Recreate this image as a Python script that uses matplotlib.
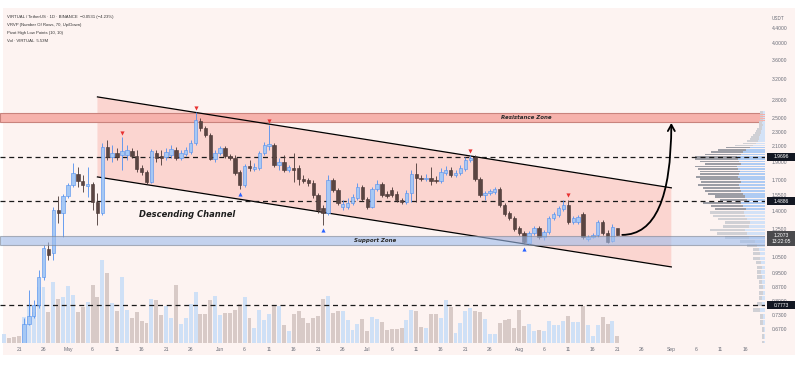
import numpy as np
import pandas as pd
import matplotlib
matplotlib.use("Agg")
import matplotlib.pyplot as plt
import matplotlib.dates as mdates
import matplotlib.transforms as mtransforms
from matplotlib.patches import Rectangle, Polygon
from matplotlib.ticker import FixedLocator, NullLocator

plt.rcParams['font.family'] = ['Liberation Sans', 'DejaVu Sans']

# ---- daily candles, VIRTUAL/USDT (first candle 2025-04-22) ----
FIRST_CANDLE = "2025-04-22"
opens = [
    0.614, 0.692, 0.727, 0.777, 0.927, 1.106, 1.078, 1.411, 1.385, 1.540,
    1.649, 1.767, 1.691, 1.639, 1.660, 1.483, 1.385, 2.092, 1.965, 2.015,
    1.989, 1.989, 2.040, 1.977, 1.835, 1.789, 1.680, 2.015, 1.977, 1.965,
    1.989, 2.053, 1.953, 2.003, 2.028, 2.145, 2.460, 2.355, 2.254, 1.941,
    2.015, 2.079, 1.977, 1.953, 1.789, 1.649, 1.858, 1.823, 1.835, 2.015,
    2.105, 2.118, 1.869, 1.905, 1.811, 1.835, 1.835, 1.712, 1.701, 1.670,
    1.549, 1.429, 1.385, 1.701, 1.599, 1.437, 1.437, 1.474, 1.521, 1.629,
    1.511, 1.437, 1.609, 1.660, 1.559, 1.599, 1.559, 1.502, 1.483, 1.569,
    1.767, 1.723, 1.712, 1.723, 1.701, 1.691, 1.778, 1.811, 1.756, 1.778,
    1.823, 1.928, 1.965, 1.712, 1.549, 1.569, 1.579, 1.609, 1.455, 1.385,
    1.342, 1.261, 1.222, 1.149, 1.222, 1.261, 1.192, 1.230, 1.342, 1.367,
    1.420, 1.455, 1.309, 1.309, 1.376, 1.177, 1.192, 1.207, 1.309, 1.222,
    1.163, 1.261]
highs = [
    0.718, 0.856, 0.804, 0.970, 1.134, 1.156, 1.437, 1.540, 1.559, 1.670,
    1.893, 1.846, 1.756, 1.846, 1.680, 1.569, 2.145, 2.185, 2.118, 2.079,
    2.226, 2.118, 2.079, 2.053, 1.869, 1.811, 2.066, 2.053, 2.053, 2.079,
    2.118, 2.092, 2.053, 2.092, 2.185, 2.603, 2.507, 2.385, 2.283, 2.053,
    2.105, 2.105, 2.003, 1.989, 1.811, 1.881, 1.928, 1.893, 2.040, 2.158,
    2.400, 2.145, 1.953, 1.989, 1.869, 2.015, 1.869, 1.756, 1.723, 1.701,
    1.569, 1.455, 1.756, 1.723, 1.619, 1.502, 1.521, 1.559, 1.670, 1.649,
    1.530, 1.629, 1.701, 1.680, 1.589, 1.629, 1.589, 1.521, 1.599, 1.811,
    1.893, 1.756, 1.767, 1.846, 1.745, 1.835, 1.858, 1.846, 1.811, 1.869,
    1.965, 1.989, 1.989, 1.734, 1.589, 1.609, 1.629, 1.629, 1.474, 1.402,
    1.358, 1.277, 1.238, 1.238, 1.277, 1.277, 1.245, 1.358, 1.393, 1.446,
    1.502, 1.502, 1.358, 1.367, 1.393, 1.207, 1.222, 1.325, 1.325, 1.245,
    1.293, 1.245]
lows = [
    0.606, 0.688, 0.718, 0.763, 0.911, 1.032, 1.032, 1.301, 1.192, 1.521,
    1.629, 1.629, 1.579, 1.530, 1.411, 1.285, 1.367, 1.928, 1.905, 1.928,
    1.811, 1.928, 1.953, 1.789, 1.756, 1.660, 1.670, 1.905, 1.869, 1.928,
    1.953, 1.928, 1.928, 1.977, 2.003, 2.118, 2.311, 2.226, 1.928, 1.905,
    1.989, 1.953, 1.928, 1.756, 1.609, 1.629, 1.800, 1.800, 1.811, 1.989,
    2.053, 1.846, 1.811, 1.789, 1.789, 1.680, 1.649, 1.670, 1.639, 1.521,
    1.385, 1.285, 1.367, 1.579, 1.455, 1.411, 1.420, 1.455, 1.502, 1.493,
    1.420, 1.429, 1.589, 1.530, 1.521, 1.530, 1.483, 1.465, 1.465, 1.483,
    1.483, 1.691, 1.691, 1.649, 1.670, 1.670, 1.756, 1.734, 1.734, 1.756,
    1.800, 1.905, 1.691, 1.530, 1.502, 1.549, 1.559, 1.437, 1.358, 1.325,
    1.238, 1.207, 1.141, 1.141, 1.207, 1.177, 1.170, 1.215, 1.325, 1.350,
    1.402, 1.293, 1.293, 1.293, 1.177, 1.163, 1.185, 1.192, 1.207, 1.149,
    1.156, 1.207]
closes = [
    0.692, 0.727, 0.777, 0.927, 1.113, 1.065, 1.411, 1.385, 1.540, 1.649,
    1.778, 1.691, 1.649, 1.660, 1.483, 1.385, 2.092, 1.965, 2.015, 1.965,
    2.040, 2.053, 1.977, 1.823, 1.789, 1.680, 2.040, 1.953, 1.953, 2.028,
    2.066, 1.953, 2.015, 2.053, 2.145, 2.476, 2.355, 2.254, 1.941, 2.015,
    2.079, 1.977, 1.953, 1.778, 1.649, 1.858, 1.835, 1.846, 2.015, 2.118,
    2.131, 1.869, 1.905, 1.811, 1.846, 1.811, 1.712, 1.691, 1.670, 1.549,
    1.411, 1.385, 1.701, 1.599, 1.474, 1.465, 1.474, 1.530, 1.629, 1.511,
    1.437, 1.609, 1.660, 1.549, 1.540, 1.549, 1.502, 1.483, 1.569, 1.767,
    1.723, 1.712, 1.723, 1.691, 1.691, 1.789, 1.811, 1.756, 1.778, 1.835,
    1.928, 1.953, 1.712, 1.549, 1.569, 1.589, 1.609, 1.455, 1.376, 1.342,
    1.253, 1.222, 1.156, 1.222, 1.261, 1.192, 1.230, 1.342, 1.376, 1.429,
    1.455, 1.309, 1.342, 1.350, 1.192, 1.192, 1.207, 1.309, 1.222, 1.156,
    1.269, 1.207]

# volume in millions (first bar 2025-04-18)
FIRST_VOLUME = "2025-04-18"
volumes = [
    7.7, 4.4, 5.0, 5.8, 21.6, 31.2, 25.7, 46.5, 46.5, 25.7,
    50.6, 36.8, 38.2, 47.0, 39.5, 25.7, 29.9, 34.0, 47.8, 38.2,
    68.6, 58.1, 33.2, 26.5, 54.7, 27.7, 21.0, 25.7, 18.2, 16.6,
    36.8, 35.4, 22.9, 30.4, 21.0, 47.8, 16.0, 21.0, 32.6, 42.3,
    24.3, 24.3, 35.4, 38.7, 22.9, 24.9, 24.9, 27.7, 32.1, 38.2,
    20.7, 12.4, 27.7, 18.8, 24.3, 31.2, 30.4, 14.7, 10.0, 24.3,
    26.3, 20.7, 16.6, 20.7, 22.1, 36.8, 39.3, 24.9, 26.3, 26.3,
    18.8, 10.5, 15.5, 19.9, 10.0, 21.6, 19.6, 17.4, 10.5, 11.3,
    11.3, 12.4, 18.8, 27.1, 26.3, 13.3, 12.4, 24.3, 24.3, 21.0,
    35.4, 29.9, 8.3, 16.6, 26.3, 29.3, 26.3, 25.7, 19.6, 7.7,
    7.7, 16.6, 18.8, 20.2, 12.7, 27.1, 13.8, 15.5, 9.7, 11.1,
    9.7, 18.0, 14.7, 14.7, 18.0, 22.7, 17.4, 17.4, 30.7, 14.7,
    5.5, 15.2, 21.6, 15.5, 18.0, 5.5]
early_vol_up = [True, False, False, False]   # bars before the first candle

# pivot high / low points
pivot_high_days = ["2025-05-12", "2025-05-27", "2025-06-11", "2025-07-22", "2025-08-11"]
pivot_low_days = ["2025-06-05", "2025-06-22", "2025-08-02"]

# levels and zones
dashed_levels = [1.9696, 1.4886, 0.7773]
resistance_zone = (2.445, 2.587)
support_zone = (1.134, 1.200)
last_price = 1.2073
countdown = "13:22:05"

# descending channel (start/end date, upper and lower line prices)
channel_days = ["2025-05-07", "2025-09-01"]
channel_upper = [2.86, 1.62]
channel_lower = [1.734, 0.988]

# projected move arrow
arrow_from = ("2025-08-22", 1.207)
arrow_to = ("2025-09-01", 2.43)

# visible range volume profile (70 rows, bottom to top)
vp_low, vp_high = 0.60, 2.62
vp_total = [3, 3, 3, 5, 5, 12, 8, 6, 6, 6,
            6, 8, 8, 8, 9, 12, 12, 12, 18, 25,
            40, 48, 55, 42, 40, 47, 52, 55, 50, 54,
            62, 45, 50, 57, 60, 62, 67, 64, 65, 69,
            65, 65, 67, 70, 60, 65, 70, 70, 60, 54,
            47, 39, 30, 22, 18, 15, 14, 12, 10, 9,
            8, 6, 6, 6, 6, 5, 5, 5, 5, 5]
vp_up = [1, 1, 1, 2, 2, 5, 3, 3, 2, 2,
         3, 3, 4, 3, 4, 5, 5, 6, 8, 10,
         16, 18, 20, 16, 15, 18, 20, 21, 19, 22,
         24, 18, 20, 22, 24, 25, 26, 24, 25, 27,
         26, 25, 27, 28, 24, 26, 27, 28, 24, 22,
         19, 15, 12, 9, 7, 6, 6, 5, 4, 4,
         3, 3, 2, 3, 2, 2, 2, 2, 2, 2]
value_area = (1.40, 2.10)

price_ticks = [4.4, 4.0, 3.6, 3.2, 2.8, 2.5, 2.3, 2.1, 1.9, 1.7, 1.55, 1.4,
               1.25, 1.05, 0.95, 0.87, 0.8, 0.73, 0.67]

legend_lines = ["VIRTUAL / TetherUS · 1D · BINANCE  −0.0531 (−4.23%)",
                "VRVP (Number Of Rows, 70, Up/Down)",
                "Pivot High Low Points (10, 10)",
                "Vol · VIRTUAL  5.53M"]

# colours
BG = "#fdf3f1"
BULL_FILL, BULL_EDGE = "#a6c8f4", "#4f8ff0"
BEAR_FILL, BEAR_EDGE = "#5a4542", "#473533"
VOL_UP, VOL_DOWN = "#cfe0f6", "#d8cac7"
LABEL = "#6a6d78"

W, H = 800, 381
fig = plt.figure(figsize=(W / 100, H / 100), dpi=100)
fig.patch.set_facecolor("white")
fig.add_artist(Rectangle((3 / W, 26 / H), 792 / W, 347 / H, transform=fig.transFigure,
                         fc=BG, ec="none", zorder=-5))

ax = fig.add_axes([0, 38 / H, 765 / W, 331 / H])
vax = ax.twinx()
ax.set_zorder(vax.get_zorder() + 1)
ax.patch.set_visible(False)
vax.axis("off")

x = mdates.date2num(pd.date_range(FIRST_CANDLE, periods=len(closes), freq="D"))
o, h, l, c = map(np.array, (opens, highs, lows, closes))
up = c >= o

# volume
vx = mdates.date2num(pd.date_range(FIRST_VOLUME, periods=len(volumes), freq="D"))
vol_up = list(early_vol_up) + list(up)
vax.bar(vx, volumes, width=0.8, color=[VOL_UP if u else VOL_DOWN for u in vol_up], lw=0)
vax.set_ylim(0, 275)

# channel
cx = mdates.date2num(pd.to_datetime(channel_days))
ax.add_patch(Polygon([(cx[0], channel_upper[0]), (cx[1], channel_upper[1]),
                      (cx[1], channel_lower[1]), (cx[0], channel_lower[0])],
                     closed=True, fc="#fbd5d0", ec="none", zorder=1))
ax.plot(cx, channel_upper, color="black", lw=0.9, zorder=3)
ax.plot(cx, channel_lower, color="black", lw=0.9, zorder=3)

# zones
ax.axhspan(*resistance_zone, fc="#f6b2ac", ec="#c9837d", lw=0.8, zorder=2)
ax.axhspan(*support_zone, fc="#9fbdec", ec="#7d8594", lw=0.8, alpha=0.6, zorder=6)

for lv in dashed_levels:
    ax.axhline(lv, color="#1a1a1a", lw=0.9, ls=(0, (4, 3)), zorder=3)

# volume profile on the right edge
blend = mtransforms.blended_transform_factory(ax.transAxes, ax.transData)
edges = np.linspace(vp_low, vp_high, len(vp_total) + 1)
vp_scale = 0.0915 / max(vp_total)
for i, (tot, u) in enumerate(zip(vp_total, vp_up)):
    y0, hh = edges[i], (edges[i + 1] - edges[i]) * 0.72
    mid = (edges[i] + edges[i + 1]) / 2
    in_va = value_area[0] <= mid <= value_area[1]
    cu = "#aecbf3" if in_va else "#d3e2f7"
    cd = "#9c9da5" if in_va else "#d0d0d5"
    ax.add_patch(Rectangle((1 - u * vp_scale, y0), u * vp_scale, hh, transform=blend,
                           fc=cu, ec="none", zorder=2.5))
    ax.add_patch(Rectangle((1 - tot * vp_scale, y0), (tot - u) * vp_scale, hh, transform=blend,
                           fc=cd, ec="none", zorder=2.5))

# candles
body_lo = np.minimum(o, c)
body_hi = np.maximum(np.maximum(o, c), body_lo * 1.005)
ax.vlines(x, l, h, colors=np.where(up, BULL_EDGE, BEAR_EDGE), lw=0.6, zorder=4)
ax.bar(x, body_hi - body_lo, bottom=body_lo, width=0.7,
       color=np.where(up, BULL_FILL, BEAR_FILL), edgecolor=np.where(up, BULL_EDGE, BEAR_EDGE),
       lw=0.4, zorder=5)

# pivot markers
for d in pivot_high_days:
    i = int(np.where(x == mdates.date2num(pd.Timestamp(d)))[0][0])
    ax.plot(x[i], h[i] * 1.028, marker="v", color="#e8302f", ms=3, mew=0, zorder=7)
for d in pivot_low_days:
    i = int(np.where(x == mdates.date2num(pd.Timestamp(d)))[0][0])
    ax.plot(x[i], l[i] / 1.035, marker="^", color="#2962ff", ms=3, mew=0, zorder=7)

# arrow
ax.annotate("", xy=(mdates.date2num(pd.Timestamp(arrow_to[0])), arrow_to[1]),
            xytext=(mdates.date2num(pd.Timestamp(arrow_from[0])), arrow_from[1]),
            arrowprops=dict(arrowstyle="->,head_length=0.45,head_width=0.25",
                            connectionstyle="angle3,angleA=0,angleB=90",
                            color="black", lw=1.3, shrinkA=0, shrinkB=0), zorder=8)

# texts on chart
d0 = mdates.date2num(pd.Timestamp("2025-04-21"))
ax.text(d0 + 34.3, 1.37, "Descending Channel", fontsize=6, fontweight="bold", style="italic",
        family="DejaVu Sans", ha="center", va="center", color="#1e1e1e", zorder=8)
ax.text(d0 + 103.5, np.sqrt(resistance_zone[0] * resistance_zone[1]), "Resistance Zone",
        fontsize=4, fontweight="bold", style="italic", family="DejaVu Sans",
        ha="center", va="center", color="#2a2a2a", zorder=8)
ax.text(d0 + 72.6, np.sqrt(support_zone[0] * support_zone[1]), "Support Zone",
        fontsize=4, fontweight="bold", style="italic", family="DejaVu Sans",
        ha="center", va="center", color="#2a2a2a", zorder=8)

# axes
ax.set_yscale("log")
ax.set_xlim(d0 - 3.87, d0 + 152.1)
ax.set_ylim(0.614, 4.863)
vax.set_xlim(ax.get_xlim())
ax.yaxis.tick_right()
ax.yaxis.set_major_locator(FixedLocator(price_ticks))
ax.yaxis.set_minor_locator(NullLocator())
ax.set_yticklabels([f"{p:.4f}" for p in price_ticks])
ax.tick_params(axis="y", length=0, pad=5, labelsize=3.6, labelcolor=LABEL)

tick_days = [pd.Timestamp(2025, m, dd) for m in range(4, 10) for dd in (1, 6, 11, 16, 21, 26)]
tick_days = [t for t in tick_days if pd.Timestamp("2025-04-21") <= t <= pd.Timestamp("2025-09-16")]
ax.set_xticks(mdates.date2num(tick_days))
ax.set_xticklabels([t.strftime("%b") if t.day == 1 else str(t.day) for t in tick_days])
ax.tick_params(axis="x", length=0, pad=3, labelsize=3.6, labelcolor=LABEL)
for s in ax.spines.values():
    s.set_visible(False)

# price label boxes on the scale
to_fig = fig.transFigure.inverted()
def price_box(price, text, fc, two=False):
    yd = ax.transData.transform((0, price))[1]
    hpx = 15 if two else 8
    top = yd + 4
    y0 = to_fig.transform((0, top - hpx))[1]
    fig.add_artist(Rectangle((767 / W, y0), 28 / W, hpx / H, transform=fig.transFigure,
                             fc=fc, ec="none", zorder=10))
    fig.text(781 / W, to_fig.transform((0, top - hpx / 2))[1], text, ha="center", va="center",
             fontsize=3.6, color="white", zorder=11, linespacing=1.3)

price_box(dashed_levels[0], f"{dashed_levels[0]:.4f}", "#131722")
price_box(dashed_levels[1], f"{dashed_levels[1]:.4f}", "#131722")
price_box(dashed_levels[2], f"{dashed_levels[2]:.4f}", "#131722")
price_box(last_price, f"{last_price:.4f}\n{countdown}", "#4a4a4d", two=True)

fig.text(778 / W, 1 - 19 / H, "USDT", fontsize=3.3, color=LABEL, ha="center", va="center")
for k, line in enumerate(legend_lines):
    fig.text(7 / W, 1 - (17 + 8 * k) / H, line, fontsize=3.1, color="#333333", va="center")

fig.savefig("out.png", dpi=100, facecolor="white")
